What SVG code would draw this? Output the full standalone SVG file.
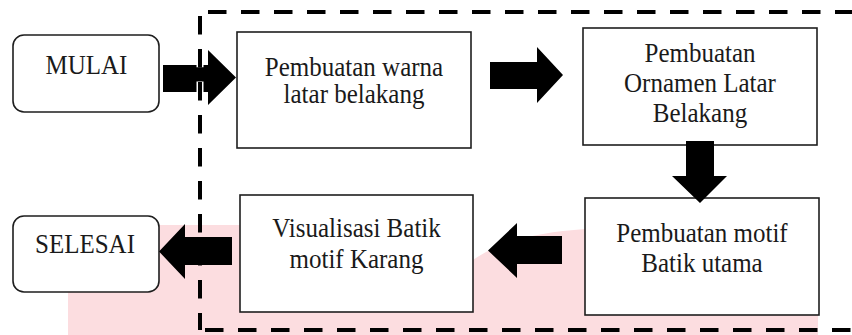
<svg xmlns="http://www.w3.org/2000/svg" width="852" height="335" viewBox="0 0 852 335">
<style>
.box{fill:#fff;stroke:#1e1e1e;stroke-width:1.6}
.t{font-family:"Liberation Serif","Times New Roman",serif;font-size:25px;fill:#1a1a1a;text-anchor:middle}
.arr{fill:#000}
.dash{fill:none;stroke:#000;stroke-width:4;stroke-dasharray:18.5 14.5}
</style>
<rect width="852" height="335" fill="#fff"/>
<path id="watermark" d="M68,225 H470 V260 L473,260 Q510,234 585,229 H818 V335 H68 Z" fill="#fcdde0"/>
<g id="mulai"><rect class="box" x="13" y="35" width="146" height="77" rx="11"/><text class="t" x="86.5" y="74" transform="matrix(1 0 0 1.08 0 -5.92)">MULAI</text></g>
<g id="warna"><rect class="box" x="237" y="32" width="234" height="116"/><text class="t" x="354" y="76" transform="matrix(1 0 0 1.08 0 -6.08)">Pembuatan warna</text><text class="t" x="354" y="103" transform="matrix(1 0 0 1.08 0 -8.24)">latar belakang</text></g>
<g id="ornamen"><rect class="box" x="583" y="28" width="234" height="117"/><text class="t" x="700" y="62" transform="matrix(1 0 0 1.08 0 -4.96)">Pembuatan</text><text class="t" x="700" y="92" transform="matrix(1 0 0 1.08 0 -7.36)">Ornamen Latar</text><text class="t" x="700" y="122" transform="matrix(1 0 0 1.08 0 -9.76)">Belakang</text></g>
<g id="motif"><rect class="box" x="585" y="198" width="234" height="117"/><text class="t" x="702" y="242" transform="matrix(1 0 0 1.08 0 -19.36)">Pembuatan motif</text><text class="t" x="702" y="272" transform="matrix(1 0 0 1.08 0 -21.76)">Batik utama</text></g>
<g id="visualisasi"><rect class="box" x="240" y="195" width="233" height="117"/><text class="t" x="356.5" y="237" transform="matrix(1 0 0 1.08 0 -18.96)">Visualisasi Batik</text><text class="t" x="356.5" y="268" transform="matrix(1 0 0 1.08 0 -21.44)">motif Karang</text></g>
<g id="selesai"><rect class="box" x="13" y="216" width="146" height="76" rx="11"/><text class="t" x="85" y="253" transform="matrix(1 0 0 1.08 0 -20.24)">SELESAI</text></g>
<g id="connectors">
<polygon class="arr" points="163,65 208,65 208,50 236,77.5 208,105 208,92 163,92"/>
<polygon class="arr" points="490,62 537,62 537,47 563,75 537,103 537,89 490,89"/>
<polygon class="arr" points="686,141 714,141 714,176 727,176 700,203 672,176 686,176"/>
<polygon class="arr" points="562,236 517,236 517,223 488,250.5 517,278 517,264 562,264"/>
<polygon class="arr" points="232,237 185,237 185,224 159,251.5 185,279 185,265 232,265"/>
</g>
<g id="border">
<line x1="200" y1="46" x2="200" y2="102" stroke="#fff" stroke-width="7" stroke-dasharray="0 2.7 18.5 14.2 18.5 20"/>
<line class="dash" x1="208" y1="12" x2="852" y2="12"/>
<line class="dash" x1="200" y1="16" x2="200" y2="330"/>
<line class="dash" x1="205" y1="330" x2="852" y2="330"/>
</g>
</svg>
